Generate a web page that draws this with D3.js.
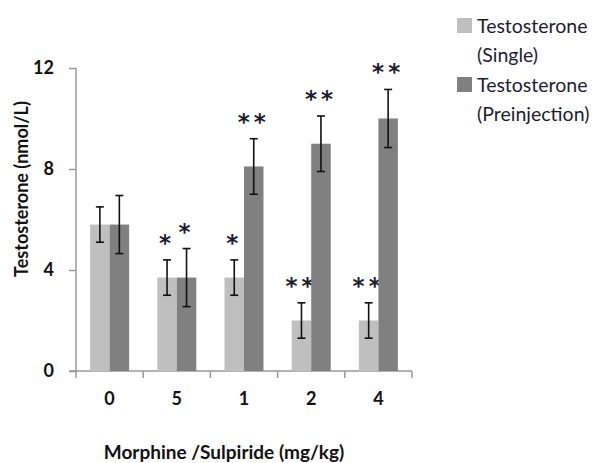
<!DOCTYPE html>
<html>
<head>
<meta charset="utf-8">
<script src="https://cdnjs.cloudflare.com/ajax/libs/d3/7.8.5/d3.min.js"></script>
<style>
  body { margin: 0; background: #fff; }
  svg { font-family: Lato, "Open Sans", sans-serif; }
</style>
</head>
<body>
<div id="chart"></div>
<script>
// data
var doses = ["0", "5", "1", "2", "4"];
var seriesNames = ["Testosterone (Single)", "Testosterone (Preinjection)"];
var singleVals = [5.8, 3.7, 3.7, 2.0, 2.0];
var singleErr = [0.7, 0.7, 0.7, 0.7, 0.7];
var preVals = [5.8, 3.7, 8.1, 9.0, 10.0];
var preErr = [1.15, 1.15, 1.1, 1.1, 1.15];
var singleStars = ["", "*", "*", "**", "**"];
var preStars = ["", "*", "**", "**", "**"];
var yTicks = [0, 4, 8, 12];

var width = 596, height = 463;
var colors = ["#bfbfbf", "#808080"];
var axisColor = "#999";

var svg = d3.select("#chart").append("svg")
    .attr("width", width).attr("height", height);

var x = d3.scaleBand().domain(doses).range([76, 412]);
var sub = d3.scaleBand().domain([0, 1])
    .range([x.bandwidth() * 0.21, x.bandwidth() * 0.79]);
var y = d3.scaleLinear().domain([0, 12]).range([371, 68]);

// y axis
var yAxis = svg.append("g")
    .attr("transform", "translate(76,0)")
    .call(d3.axisLeft(y).tickValues(yTicks).tickSize(7).tickPadding(15));
yAxis.select(".domain").attr("d", "M0," + y(12) + "V" + y(0)).attr("stroke", axisColor).attr("stroke-width", 1.5);
yAxis.selectAll(".tick line").attr("stroke", axisColor).attr("stroke-width", 1.5);
yAxis.selectAll(".tick text")
    .attr("font-size", 18).attr("font-weight", "bold").attr("fill", "#111")
    .attr("font-family", "Lato, sans-serif");

// x axis: ticks sit on category boundaries
var xg = svg.append("g").attr("transform", "translate(0," + y(0) + ")");
xg.append("line").attr("x1", 69).attr("x2", 412)
    .attr("stroke", axisColor).attr("stroke-width", 1.5);
var bounds = doses.map(function(d) { return x(d); }).concat([x(doses[doses.length - 1]) + x.bandwidth()]);
xg.selectAll(".xt").data(bounds).enter().append("line")
    .attr("x1", function(d) { return d; }).attr("x2", function(d) { return d; })
    .attr("y1", 0).attr("y2", 7)
    .attr("stroke", axisColor).attr("stroke-width", 1.5);
xg.selectAll(".xl").data(doses).enter().append("text")
    .attr("x", function(d) { return x(d) + x.bandwidth() / 2; })
    .attr("y", 34)
    .attr("text-anchor", "middle")
    .attr("font-size", 18).attr("font-weight", "bold").attr("fill", "#111")
    .text(function(d) { return d; });

// bars + error bars + stars
var groups = [
  { vals: singleVals, err: singleErr, stars: singleStars },
  { vals: preVals, err: preErr, stars: preStars }
];

groups.forEach(function(s, si) {
  var data = doses.map(function(d, i) {
    return { dose: d, v: s.vals[i], e: s.err[i], star: s.stars[i] };
  });
  var cx = function(d) { return x(d.dose) + sub(si) + sub.bandwidth() / 2; };

  svg.append("g").selectAll("rect").data(data).enter().append("rect")
      .attr("x", function(d) { return x(d.dose) + sub(si); })
      .attr("y", function(d) { return y(d.v); })
      .attr("width", sub.bandwidth())
      .attr("height", function(d) { return y(0) - y(d.v); })
      .attr("fill", colors[si]);

  var eb = svg.append("g").attr("stroke", "#111").attr("stroke-width", 1.6);
  eb.selectAll(".v").data(data).enter().append("line")
      .attr("x1", cx).attr("x2", cx)
      .attr("y1", function(d) { return y(d.v + d.e); })
      .attr("y2", function(d) { return y(d.v - d.e); });
  eb.selectAll(".t").data(data).enter().append("line")
      .attr("x1", function(d) { return cx(d) - 4; }).attr("x2", function(d) { return cx(d) + 4; })
      .attr("y1", function(d) { return y(d.v + d.e); })
      .attr("y2", function(d) { return y(d.v + d.e); });
  eb.selectAll(".b").data(data).enter().append("line")
      .attr("x1", function(d) { return cx(d) - 4; }).attr("x2", function(d) { return cx(d) + 4; })
      .attr("y1", function(d) { return y(d.v - d.e); })
      .attr("y2", function(d) { return y(d.v - d.e); });

  svg.append("g").selectAll("text").data(data).enter().append("text")
      .attr("x", cx)
      .attr("y", function(d) { return y(d.v + d.e) - 9; })
      .attr("text-anchor", "middle")
      .attr("font-family", "'DejaVu Sans', sans-serif")
      .attr("font-size", 23)
      .attr("font-weight", "bold")
      .attr("letter-spacing", 4)
      .attr("fill", "#1c1c30")
      .text(function(d) { return d.star; });
});

// axis titles
svg.append("text")
    .attr("transform", "translate(21,189) rotate(-90)")
    .attr("text-anchor", "middle").attr("dominant-baseline", "central")
    .attr("font-size", 18).attr("font-weight", "bold").attr("fill", "#111")
    .text("Testosterone (nmol/L)");
svg.append("text")
    .attr("x", 224).attr("y", 459)
    .attr("text-anchor", "middle")
    .attr("font-size", 19).attr("font-weight", "bold").attr("fill", "#111")
    .text("Morphine /Sulpiride (mg/kg)");

// legend
var legendLines = [["Testosterone", "(Single)"], ["Testosterone", "(Preinjection)"]];
var leg = svg.append("g");
legendLines.forEach(function(lines, i) {
  var top = 18 + i * 59;
  leg.append("rect").attr("x", 457).attr("y", top).attr("width", 15).attr("height", 15)
      .attr("fill", colors[i]);
  lines.forEach(function(t, j) {
    leg.append("text").attr("x", 477).attr("y", top + 15 + j * 29)
        .attr("font-size", 19.5).attr("fill", "#1c1c30")
        .text(t);
  });
});
</script>
</body>
</html>
